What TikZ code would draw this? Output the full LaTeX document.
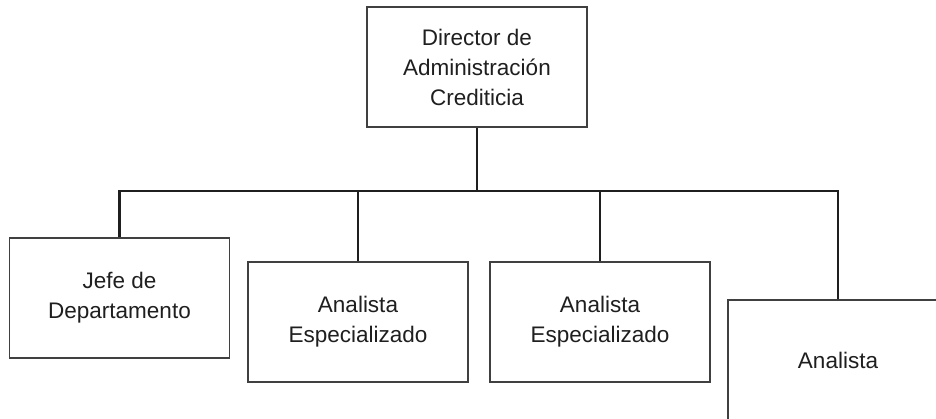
\documentclass[tikz,border=0pt]{standalone}
\usepackage{fontspec}
\setmainfont{Liberation Sans}
\begin{document}
\begin{tikzpicture}[x=1pt,y=-1pt,
  box/.style={draw=black!75,line width=1.1pt,fill=white,minimum width=220pt,minimum height=120pt,
    inner sep=0pt,align=center,text=black!88,font=\fontsize{22.5}{30}\selectfont},
  conn/.style={draw=black!88,line width=2.8pt}]
\useasboundingbox (0,0) rectangle (936,419);
\clip (0,0) rectangle (936,419);
\fill[white] (0,0) rectangle (936,419);
\coordinate (bus) at (0,191);
\node[box] (dir) at (477,67) {Director de\\Administración\\Crediticia};
\node[box] (jefe) at (119.5,298) {Jefe de\\Departamento};
\node[box] (esp1) at (358,322) {Analista\\Especializado};
\node[box] (esp2) at (600,322) {Analista\\Especializado};
\node[box] (ana) at (838,360) {Analista};
\draw[conn] (dir.south) -- (dir.south |- bus);
\draw[conn,line cap=butt] (jefe.north) -- (jefe.north |- bus) -- (ana.north |- bus) -- (ana.north);
\draw[conn] (esp1.north) -- (esp1.north |- bus);
\draw[conn] (esp2.north) -- (esp2.north |- bus);
\end{tikzpicture}
\end{document}
